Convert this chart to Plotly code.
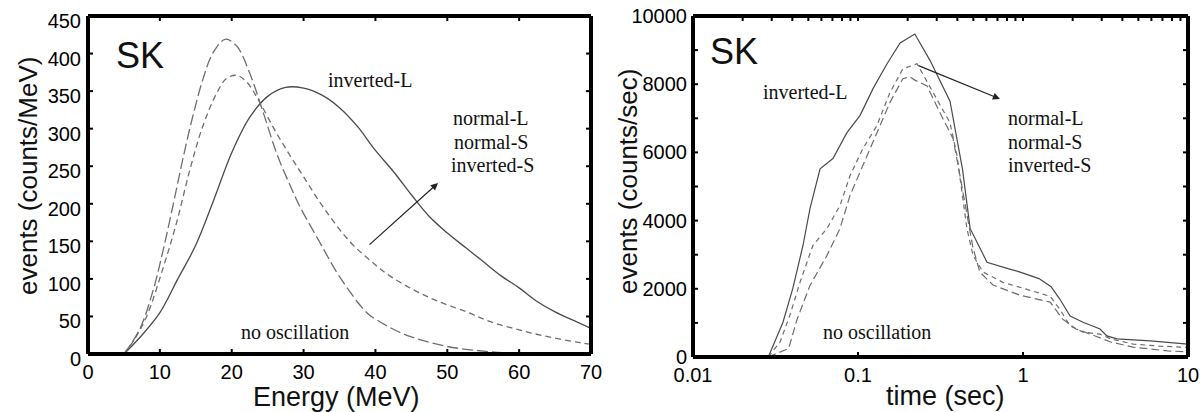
import math
import plotly.graph_objects as go

# ---------------- Energy spectrum (left panel) ----------------
energy_inv_l = [5, 7.5, 10, 12.5, 15, 17.5, 20, 22.5, 25, 27.5, 30, 32.5, 35, 37.5,
                40, 42.5, 45, 47.5, 50, 52.5, 55, 57.5, 60, 62.5, 65, 67.5, 70]
events_inv_l = [0, 25, 55, 100, 145, 205, 268, 315, 343, 355, 354, 345, 328, 303,
                271, 243, 212, 183, 161, 142, 123, 104, 88, 70, 56, 45, 34]

energy_mid = [5, 6.5, 8.2, 10.4, 12.3, 14.2, 16, 17.9, 19.3, 20.7, 22.1, 23.9, 26, 28,
              30, 32.7, 36.4, 39.7, 42, 45.2, 48.5, 52.7, 56, 60, 64, 68.5, 70]
events_mid = [0, 20, 51, 113, 174, 246, 304, 347, 367, 371, 362, 335, 298, 266,
              236, 196, 150, 121, 104, 86, 71, 56, 43, 32, 23, 15, 13]

energy_noosc = [5, 7.2, 9.1, 10.5, 11.9, 13.3, 14.6, 16, 17.4, 19.1, 20.7, 22.5, 24.4,
                26.3, 28.1, 29.5, 32.3, 35, 38.8, 40.6, 42.9, 45.2, 50, 56, 60, 65, 70]
events_noosc = [0, 33, 86, 140, 201, 264, 317, 366, 401, 419, 410, 374, 321,
                266, 225, 196, 148, 103, 55, 43, 31, 22, 10, 3, 1, 0, 0]

energy_ticks = [0, 10, 20, 30, 40, 50, 60, 70]
energy_tick_text = ["0", "10", "20", "30", "40", "50", "60", "70"]
spec_ticks = [0, 50, 100, 150, 200, 250, 300, 350, 400, 450]
spec_tick_text = ["0", "50", "100", "150", "200", "250", "300", "350", "400", "450"]

# ---------------- Time profile (right panel) ----------------
time_inv_l = [0.0286, 0.0351, 0.0403, 0.0464, 0.0512, 0.0589, 0.0705, 0.0857, 0.1028,
              0.1233, 0.150, 0.180, 0.221, 0.273, 0.361, 0.43, 0.478, 0.548, 0.605,
              0.80, 0.96, 1.25, 1.48, 1.67, 1.93, 2.31, 2.65, 2.93, 3.22, 3.71, 5.9, 10]
rate_inv_l = [0, 1020, 2020, 3270, 4360, 5520, 5820, 6580, 7080,
              7870, 8600, 9210, 9470, 8700, 7500, 5500, 3770, 3190, 2780,
              2600, 2490, 2300, 2060, 1700, 1200, 1020, 910, 820, 620, 530, 470, 380]

time_mid = [0.0286, 0.0337, 0.0387, 0.0445, 0.0533, 0.0649, 0.0778, 0.0895, 0.107,
            0.130, 0.156, 0.187, 0.228, 0.285, 0.361, 0.398, 0.427, 0.457, 0.498,
            0.573, 0.757, 1.22, 1.46, 1.67, 1.93, 2.31, 2.93, 3.4, 4.65, 6.7, 10]
rate_mid = [0, 440, 1230, 2190, 3270, 3770, 4440, 5320, 6110,
            6780, 7750, 8450, 8600, 7750, 6870, 5910, 4740, 3770, 2980,
            2490, 2190, 1900, 1780, 1400, 910, 730, 670, 530, 380, 320, 280]

time_noosc = [0.0286, 0.034, 0.038, 0.0427, 0.0512, 0.0649, 0.0778, 0.0895, 0.107,
              0.130, 0.156, 0.187, 0.206, 0.221, 0.262, 0.314, 0.377, 0.415, 0.457,
              0.498, 0.548, 0.658, 0.96, 1.46, 1.74, 2.1, 2.76, 3.4, 4.65, 7.5, 10]
rate_noosc = [0, 150, 250, 1100, 2100, 2980, 3770, 4740, 5610,
              6580, 7460, 8160, 8220, 8120, 7950, 7160, 6400, 5320, 4150,
              3190, 2490, 2110, 1810, 1610, 1110, 820, 610, 440, 290, 180, 150]

time_ticks = [0.01, 0.1, 1, 10]
time_tick_text = ["0.01", "0.1", "1", "10"]
time_minor_ticks = [0.02, 0.03, 0.04, 0.05, 0.06, 0.07, 0.08, 0.09,
                    0.2, 0.3, 0.4, 0.5, 0.6, 0.7, 0.8, 0.9,
                    2, 3, 4, 5, 6, 7, 8, 9]
rate_ticks = [0, 2000, 4000, 6000, 8000, 10000]
rate_tick_text = ["0", "2000", "4000", "6000", "8000", "10000"]
rate_minor_ticks = [1000, 3000, 5000, 7000, 9000]

W, H = 1202, 412
SOLID = "#4a4a4a"
DASH = "#6e6e6e"
INK = "#000000"
SANS = "Liberation Sans"
SERIF = "Liberation Serif"

# plot-area edges in pixels
L_LEFT, L_RIGHT, L_TOP, L_BOTTOM = 88, 591, 16, 354
R_LEFT, R_RIGHT, R_TOP, R_BOTTOM = 693, 1188, 16, 357
TICK_LEN = 5

fig = go.Figure()

# left panel curves
fig.add_trace(go.Scatter(x=energy_inv_l, y=events_inv_l, mode="lines",
                         line=dict(color=SOLID, width=1.3, shape="spline"),
                         xaxis="x", yaxis="y"))
fig.add_trace(go.Scatter(x=energy_mid, y=events_mid, mode="lines",
                         line=dict(color=DASH, width=1.3, dash="6px,4px", shape="spline"),
                         xaxis="x", yaxis="y"))
fig.add_trace(go.Scatter(x=energy_noosc, y=events_noosc, mode="lines",
                         line=dict(color=DASH, width=1.3, dash="11px,4px", shape="spline"),
                         xaxis="x", yaxis="y"))

# right panel curves
fig.add_trace(go.Scatter(x=time_inv_l, y=rate_inv_l, mode="lines",
                         line=dict(color=SOLID, width=1.2),
                         xaxis="x2", yaxis="y2"))
fig.add_trace(go.Scatter(x=time_mid, y=rate_mid, mode="lines",
                         line=dict(color=DASH, width=1.2, dash="5px,4px"),
                         xaxis="x2", yaxis="y2"))
fig.add_trace(go.Scatter(x=time_noosc, y=rate_noosc, mode="lines",
                         line=dict(color=DASH, width=1.2, dash="8px,4px"),
                         xaxis="x2", yaxis="y2"))


def px(x):
    return x / W


def py(y):
    return 1 - y / H


# pixel position of an axis value (used for the frame ticks)
def energy_px(v):
    return L_LEFT + v / 70 * (L_RIGHT - L_LEFT)


def spec_px(v):
    return L_BOTTOM - v / 450 * (L_BOTTOM - L_TOP)


def time_px(v):
    return R_LEFT + (math.log10(v) + 2) / 3 * (R_RIGHT - R_LEFT)


def rate_px(v):
    return R_BOTTOM - v / 10000 * (R_BOTTOM - R_TOP)


shapes = []


def seg(x0, y0, x1, y1, width):
    shapes.append(dict(type="line", xref="paper", yref="paper",
                       x0=px(x0), y0=py(y0), x1=px(x1), y1=py(y1),
                       line=dict(color=INK, width=width), layer="above"))


def frame(left, right, top, bottom):
    # four separate edges so each side is its own stroke
    seg(left, top, right, top, 4)
    seg(left, bottom, right, bottom, 4)
    seg(left, top, left, bottom, 4)
    seg(right, top, right, bottom, 4)


frame(L_LEFT, L_RIGHT, L_TOP, L_BOTTOM)
frame(R_LEFT, R_RIGHT, R_TOP, R_BOTTOM)

for v in energy_ticks[1:-1]:
    x = energy_px(v)
    seg(x, L_BOTTOM, x, L_BOTTOM - TICK_LEN, 2)
    seg(x, L_TOP, x, L_TOP + TICK_LEN, 2)
for v in spec_ticks[1:-1]:
    y = spec_px(v)
    seg(L_LEFT, y, L_LEFT + TICK_LEN, y, 2)
    seg(L_RIGHT, y, L_RIGHT - TICK_LEN, y, 2)

for v in time_ticks[1:-1]:
    x = time_px(v)
    seg(x, R_BOTTOM, x, R_BOTTOM - TICK_LEN, 2)
    seg(x, R_TOP, x, R_TOP + TICK_LEN, 2)
for v in time_minor_ticks:
    x = time_px(v)
    seg(x, R_TOP, x, R_TOP + TICK_LEN, 2)
for v in rate_ticks[1:-1] + rate_minor_ticks:
    y = rate_px(v)
    seg(R_LEFT, y, R_LEFT + TICK_LEN, y, 2)
    seg(R_RIGHT, y, R_RIGHT - TICK_LEN, y, 2)

axis_common = dict(showline=False, ticks="", showgrid=False, zeroline=False,
                   automargin=False, tickfont=dict(family=SANS, size=20, color="black"))

fig.update_layout(
    template="none",
    width=W, height=H, margin=dict(l=0, r=0, t=0, b=0, pad=0),
    paper_bgcolor="white", plot_bgcolor="rgba(0,0,0,0)", showlegend=False,
    xaxis=dict(domain=[px(L_LEFT), px(L_RIGHT)], anchor="y", range=[0, 70],
               tickvals=energy_ticks, ticktext=energy_tick_text, ticklabelstandoff=4,
               **axis_common),
    yaxis=dict(domain=[py(L_BOTTOM), py(L_TOP)], anchor="x", range=[0, 450],
               tickvals=spec_ticks, ticktext=spec_tick_text, ticklabelshift=5,
               ticklabelstandoff=6, **axis_common),
    xaxis2=dict(domain=[px(R_LEFT), px(R_RIGHT)], anchor="y2", type="log", range=[-2, 1],
                tickvals=time_ticks, ticktext=time_tick_text, ticklabelstandoff=4,
                **axis_common),
    yaxis2=dict(domain=[py(R_BOTTOM), py(R_TOP)], anchor="x2", range=[0, 10000],
                tickvals=rate_ticks, ticktext=rate_tick_text, ticklabelshift=0,
                ticklabelstandoff=5, **axis_common),
    shapes=shapes,
)

annotations = []


def label(text, x, y, size=20, family=SERIF, xanchor="center", angle=0):
    annotations.append(dict(text=text, x=px(x), y=py(y), xref="paper", yref="paper",
                            xanchor=xanchor, yanchor="middle", showarrow=False,
                            textangle=angle,
                            font=dict(family=family, size=size, color="#111111")))


# panel tags
label("SK", 140, 56, size=36, family=SANS)
label("SK", 734, 51, size=36, family=SANS)

# axis titles
label("events (counts/MeV)", 28, 176, size=26, family=SANS, angle=-90)
label("events (counts/sec)", 628, 182, size=26, family=SANS, angle=-90)
label("Energy (MeV)", 337, 397, size=27, family=SANS)
label("time (sec)", 945, 396, size=27, family=SANS)

# curve labels, left panel
label("inverted-L", 370, 80)
label("normal-L", 491, 118)
label("normal-S", 491, 142)
label("inverted-S", 492, 165)
label("no oscillation", 295, 332)

# curve labels, right panel
label("inverted-L", 805, 92)
label("normal-L", 1006, 118, xanchor="left")
label("normal-S", 1006, 142, xanchor="left")
label("inverted-S", 1006, 165, xanchor="left")
label("no oscillation", 877, 332)


def arrow(x0, y0, x1, y1):
    annotations.append(dict(text="", x=px(x1), y=py(y1), xref="paper", yref="paper",
                            ax=x0 - x1, ay=y0 - y1, showarrow=True, arrowhead=2,
                            arrowsize=1.2, arrowwidth=1.2, arrowcolor="#222222",
                            standoff=0, startstandoff=0))


arrow(368, 246, 438, 183)
arrow(917, 65, 1000, 99)

fig.update_layout(annotations=annotations)

fig.write_html("out.html", config={"staticPlot": True})
